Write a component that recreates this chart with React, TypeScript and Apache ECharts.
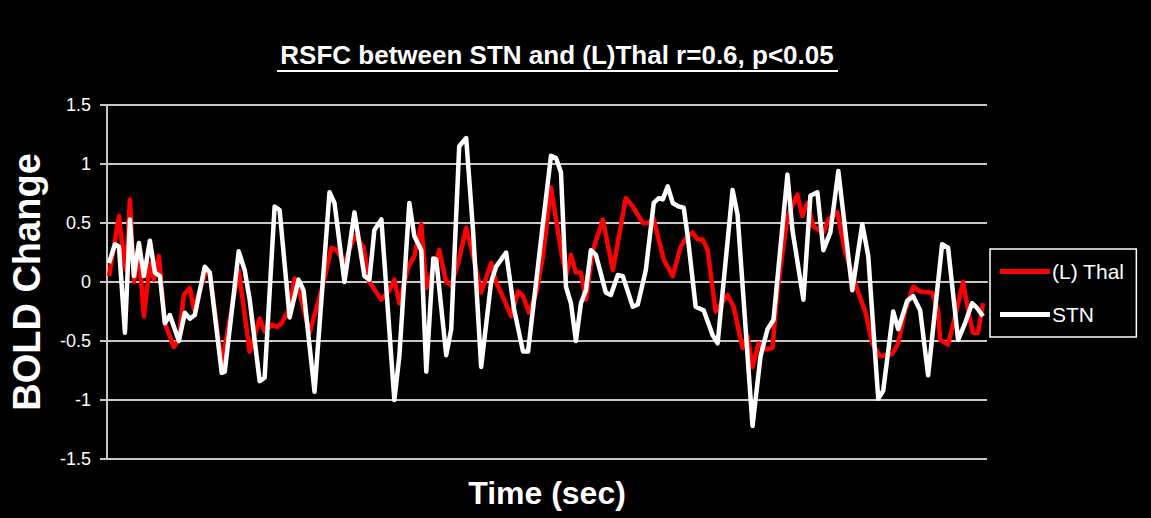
import React, { useEffect, useRef } from "react";
import * as echarts from "echarts";

const yTicks = [-1.5, -1, -0.5, 0, 0.5, 1, 1.5];

const thalTime = [0.4,1.4,2.4,3.2,3.8,4.6,5.4,6.4,7.4,8.6,9.4,10.4,11.6,13.4,14.4,15.4,16.6,17.4,19.6,20.6,23.0,26.4,28.6,30.6,31.6,33.0,34.0,35.0,36.4,37.6,38.6,40.6,43.0,45.0,46.0,47.6,49.6,51.4,52.6,55.0,56.6,57.6,58.6,60.4,61.6,63.0,64.0,65.6,66.6,68.0,69.0,70.4,72.0,73.4,75.0,77.0,78.0,79.6,81.0,82.4,83.4,84.6,86.0,87.4,89.0,91.0,92.0,93.0,94.0,95.0,96.0,97.4,99.4,101.4,104.0,105.4,107.4,108.4,109.6,111.6,113.4,115.0,116.2,117.4,118.4,119.4,120.4,122.0,124.4,125.6,127.4,128.4,129.4,130.6,132.0,133.4,134.4,136.4,138.4,139.4,140.4,141.6,143.6,144.6,146.4,148.0,150.6,152.0,153.4,155.0,157.4,158.6,160.0,161.6,163.0,165.4,166.6,167.0,168.6,170.4,171.6,172.6,173.6,174.6,175.6];
const thalValues = [0.05,0.30,0.56,0.25,0.10,0.70,0.00,0.25,-0.29,0.16,0.02,0.22,-0.35,-0.55,-0.49,-0.11,-0.05,-0.23,0.06,0.08,-0.69,0.10,-0.59,-0.31,-0.42,-0.36,-0.38,-0.35,-0.24,0.03,-0.09,-0.43,-0.07,0.29,0.27,0.16,0.39,0.30,0.00,-0.15,-0.07,0.02,-0.18,0.13,0.22,0.49,-0.05,0.13,0.27,0.00,-0.03,0.16,0.46,0.22,-0.09,0.16,0.00,-0.15,-0.29,-0.08,-0.12,-0.26,-0.10,0.22,0.80,0.27,0.05,0.23,0.08,0.08,-0.15,0.27,0.53,0.10,0.71,0.64,0.50,0.50,0.53,0.19,0.05,0.30,0.38,0.42,0.36,0.36,0.27,-0.25,-0.11,-0.21,-0.56,-0.46,-0.72,-0.52,-0.57,-0.56,-0.07,0.56,0.74,0.56,0.67,0.47,0.42,0.53,0.59,0.25,-0.09,-0.25,-0.52,-0.63,-0.61,-0.52,-0.24,-0.04,-0.08,-0.09,-0.24,-0.49,-0.53,-0.22,0.00,-0.24,-0.43,-0.43,-0.18];

const stnTime = [0.4,1.6,2.4,3.6,4.6,5.4,6.4,7.4,8.6,9.6,10.6,11.6,12.6,14.4,15.6,16.6,17.6,19.6,20.6,23.0,23.6,26.4,27.6,28.6,30.6,31.6,33.6,34.6,36.6,38.4,39.4,41.6,44.6,45.6,47.6,49.6,51.6,52.6,53.6,55.0,57.6,58.6,60.6,61.6,63.0,64.0,65.4,66.0,68.0,69.0,70.6,72.0,73.4,75.0,77.0,78.0,80.0,81.6,83.4,84.4,87.4,89.0,90.0,91.0,92.0,93.0,94.0,95.0,96.0,97.0,98.0,100.0,101.0,102.4,103.4,105.4,106.4,108.0,109.6,110.6,111.4,112.4,113.4,114.6,115.6,116.4,118.0,119.6,121.4,122.4,125.4,126.4,129.4,131.0,132.4,133.6,136.4,137.4,139.6,141.0,142.4,143.6,145.0,146.6,149.4,151.4,152.6,154.6,155.6,157.6,158.6,160.4,161.6,163.0,164.6,167.4,168.6,170.6,172.0,173.4,174.4,175.6];
const stnValues = [0.16,0.32,0.30,-0.43,0.53,0.05,0.33,0.05,0.35,0.08,0.05,-0.35,-0.28,-0.50,-0.26,-0.31,-0.28,0.13,0.08,-0.77,-0.76,0.26,0.10,-0.15,-0.84,-0.81,0.64,0.61,-0.30,0.02,-0.07,-0.93,0.76,0.67,0.00,0.59,0.05,0.02,0.44,0.53,-1.00,-0.63,0.67,0.39,0.27,-0.76,0.20,0.19,-0.62,-0.40,1.15,1.22,0.42,-0.72,0.00,0.13,0.25,-0.23,-0.59,-0.59,0.50,1.07,1.05,0.93,-0.04,-0.18,-0.50,-0.18,-0.07,0.27,0.23,-0.09,-0.11,0.06,0.05,-0.21,-0.19,0.10,0.67,0.71,0.70,0.81,0.67,0.64,0.63,0.39,-0.21,-0.24,-0.45,-0.52,0.78,0.57,-1.22,-0.63,-0.40,-0.32,0.91,0.44,-0.15,0.73,0.76,0.27,0.42,0.94,-0.07,0.49,0.22,-0.99,-0.92,-0.25,-0.40,-0.16,-0.12,-0.24,-0.79,0.32,0.29,-0.49,-0.35,-0.18,-0.22,-0.29];

const zip = (t: number[], v: number[]) => t.map((x, i) => [x, v[i]]);

export default function App() {
  const ref = useRef<HTMLDivElement>(null);
  useEffect(() => {
    if (!ref.current) return;
    const chart = echarts.init(ref.current, undefined, { renderer: "svg" });
    const grid = "#c8c8c8";
    chart.setOption({
      animation: false,
      backgroundColor: "#000000",
      grid: { left: 105, right: 164, top: 105, bottom: 59 },
      graphic: [
        {
          type: "text",
          x: 557,
          y: 55,
          style: {
            text: "RSFC between STN and (L)Thal r=0.6, p<0.05",
            fill: "#ffffff",
            align: "center",
            verticalAlign: "middle",
            font: "bold 26px 'Liberation Sans', Arial, sans-serif",
          },
        },
        {
          type: "line",
          shape: { x1: 277, y1: 71, x2: 838, y2: 71 },
          style: { stroke: "#ffffff", lineWidth: 2 },
        },
      ],
      legend: {
        orient: "vertical",
        left: 990,
        top: 249,
        padding: [12, 12, 12, 10],
        itemGap: 22,
        itemWidth: 50,
        itemHeight: 5,
        icon: "rect",
        borderColor: "#ffffff",
        borderWidth: 1.5,
        textStyle: { color: "#ffffff", fontSize: 21, fontFamily: "'Liberation Sans', Arial, sans-serif", padding: [0, 0, 0, -3] },
        data: ["(L) Thal", "STN"],
      },
      xAxis: {
        type: "value",
        min: 0,
        max: 176.4,
        name: "Time (sec)",
        nameLocation: "middle",
        nameGap: 18,
        nameTextStyle: { color: "#ffffff", fontSize: 32, fontWeight: "bold", fontFamily: "'Liberation Sans', Arial, sans-serif" },
        axisLine: { show: true, lineStyle: { color: grid, width: 2 } },
        axisTick: { show: false },
        axisLabel: { show: false },
        splitLine: { show: false },
      },
      yAxis: {
        type: "value",
        min: yTicks[0],
        max: yTicks[yTicks.length - 1],
        interval: 0.5,
        name: "BOLD Change",
        nameLocation: "middle",
        nameGap: 61,
        nameRotate: 90,
        nameTextStyle: { color: "#ffffff", fontSize: 38, fontWeight: "bold", fontFamily: "'Liberation Sans', Arial, sans-serif" },
        axisLine: { show: true, lineStyle: { color: grid, width: 2 } },
        axisTick: { show: true, inside: false, length: 7, lineStyle: { color: grid, width: 2 } },
        axisLabel: { color: "#ffffff", fontSize: 18, margin: 16, fontFamily: "'Liberation Sans', Arial, sans-serif" },
        splitLine: { show: true, lineStyle: { color: grid, width: 2 } },
      },
      series: [
        {
          name: "(L) Thal",
          type: "line",
          data: zip(thalTime, thalValues),
          showSymbol: false,
          symbol: "none",
          color: "#ff0000",
          lineStyle: { color: "#ff0000", width: 4.5, join: "round" },
        },
        {
          name: "STN",
          type: "line",
          data: zip(stnTime, stnValues),
          showSymbol: false,
          symbol: "none",
          color: "#ffffff",
          lineStyle: { color: "#ffffff", width: 4.5, join: "round" },
        },
      ],
    });
    return () => chart.dispose();
  }, []);
  return (
    <div style={{ position: "fixed", left: 0, top: 0, width: 1151, height: 518, background: "#000", boxSizing: "border-box", borderTop: "3px solid #cfcfcf" }}>
      <div ref={ref} style={{ position: "absolute", left: 0, top: -3, width: 1151, height: 518 }} />
    </div>
  );
}
